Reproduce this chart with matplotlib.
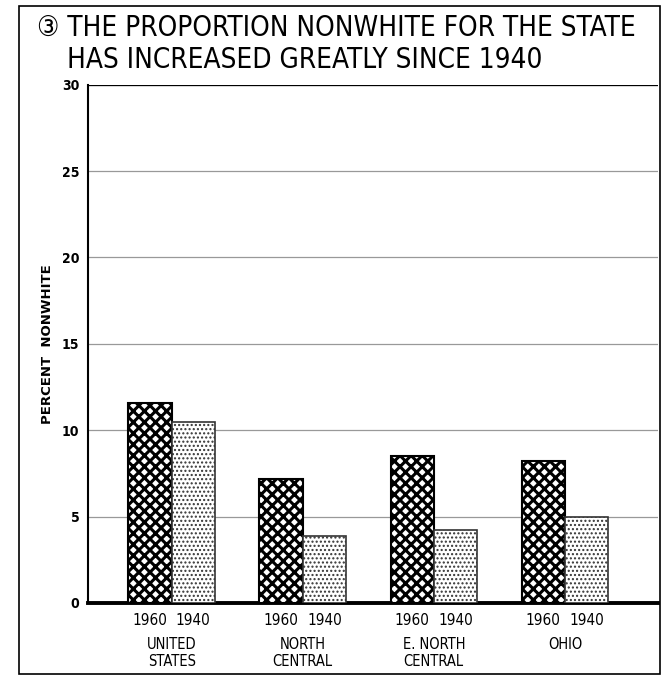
import numpy as np
import matplotlib
matplotlib.use("Agg")
import matplotlib.pyplot as plt
from matplotlib.patches import Rectangle

regions = ["UNITED\nSTATES", "NORTH\nCENTRAL", "E. NORTH\nCENTRAL", "OHIO"]
pct_1960 = [11.6, 7.2, 8.5, 8.2]
pct_1940 = [10.5, 3.9, 4.2, 5.0]
years = ["1960", "1940"]
yticks = [0, 5, 10, 15, 20, 25, 30]

fnt = ["DejaVu Sans"]

fig = plt.figure(figsize=(6.70, 6.89), dpi=100)
ax = fig.add_axes([0.131, 0.125, 0.851, 0.752])

x = np.arange(len(regions))
w = 0.33

plt.rcParams["hatch.linewidth"] = 2.2
b1 = ax.bar(x - w / 2, pct_1960, w, facecolor="white", edgecolor="black",
            hatch="xxx", linewidth=1.5, zorder=3)
plt.rcParams["hatch.linewidth"] = 1.0
b2 = ax.bar(x + w / 2, pct_1940, w, facecolor="white", edgecolor="#333333",
            hatch="....", linewidth=1.2, zorder=3)

ax.set_xlim(-0.64, 3.71)
ax.set_ylim(0, 30)
ax.set_yticks(yticks)
ax.set_yticklabels([str(t) for t in yticks], family=fnt, stretch="condensed",
                   fontweight="bold", fontsize=10)
ax.yaxis.grid(True, color="#999999", linewidth=0.9, zorder=0)
ax.axhline(30, color="black", linewidth=1.6, zorder=4)
ax.tick_params(axis="y", length=0, pad=6)
ax.set_xticks([])
for s in ["top", "right"]:
    ax.spines[s].set_visible(False)
ax.spines["left"].set_linewidth(1.5)
ax.spines["bottom"].set_linewidth(2.8)

for i in range(len(regions)):
    ax.text(x[i] - w / 2, -0.6, years[0], ha="center", va="top", family=fnt,
            stretch="condensed", fontsize=11)
    ax.text(x[i] + w / 2, -0.6, years[1], ha="center", va="top", family=fnt,
            stretch="condensed", fontsize=11)
    ax.text(x[i], -2.0, regions[i], ha="center", va="top", family=fnt,
            stretch="condensed", fontsize=10.5, linespacing=1.15)

ax.set_ylabel("PERCENT  NONWHITE", family=fnt, fontweight="bold", fontsize=9.5,
              labelpad=6)

fig.text(0.055, 0.960, "\u2462 THE PROPORTION NONWHITE FOR THE STATE", family=fnt,
         stretch="condensed", fontsize=20, va="center", ha="left")
fig.text(0.100, 0.913, "HAS INCREASED GREATLY SINCE 1940", family=fnt,
         stretch="condensed", fontsize=20, va="center", ha="left")

fig.patches.append(Rectangle((0.028, 0.022), 0.957, 0.970, transform=fig.transFigure,
                             fill=False, edgecolor="black", linewidth=1.2))

fig.savefig("out.png", dpi=100, facecolor="white")
